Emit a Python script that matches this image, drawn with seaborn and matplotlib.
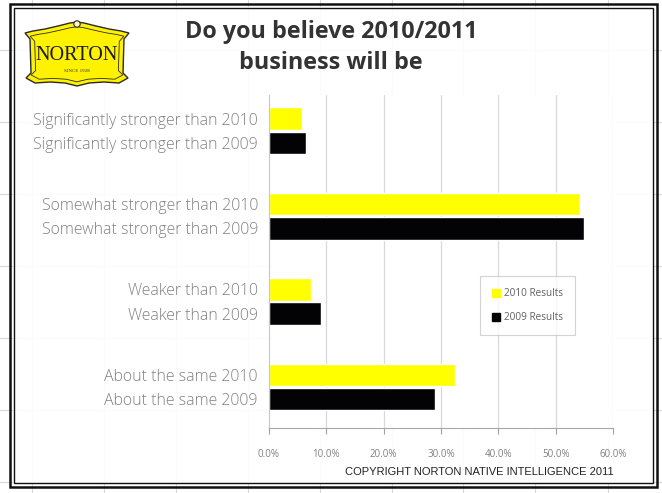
import matplotlib
matplotlib.use("Agg")
import matplotlib.pyplot as plt
import matplotlib.patches as mpatches
from matplotlib.lines import Line2D
import numpy as np
import pandas as pd
import seaborn as sns

# ---- data -------------------------------------------------------------
groups = ["Significantly stronger", "Somewhat stronger", "Weaker", "About the same"]
labels_2010 = ["Significantly stronger than 2010", "Somewhat stronger than 2010",
               "Weaker than 2010", "About the same 2010"]
labels_2009 = ["Significantly stronger than 2009", "Somewhat stronger than 2009",
               "Weaker than 2009", "About the same 2009"]
values_2010 = [5.7, 54.2, 7.4, 32.5]
values_2009 = [6.4, 54.9, 9.1, 28.9]
series = ["2010 Results", "2009 Results"]
colors = ["#ffff00", "#030305"]
xticks = [0, 10, 20, 30, 40, 50, 60]
xtick_labels = ["0.0%", "10.0%", "20.0%", "30.0%", "40.0%", "50.0%", "60.0%"]

df = pd.DataFrame({
    "group": groups * 2,
    "series": [series[0]] * 4 + [series[1]] * 4,
    "value": values_2010 + values_2009,
})

sns.set_style("white")
W, H = 662, 493
fig = plt.figure(figsize=(W / 100, H / 100), dpi=100)
fig.patch.set_facecolor("white")

# ---- background: sheet grid, double frame, logo, title ---------------
bg = fig.add_axes([0, 0, 1, 1], zorder=0)
bg.set_xlim(0, W)
bg.set_ylim(H, 0)
bg.axis("off")

for y in [50, 122, 194, 266, 338, 410, 482]:
    bg.add_line(Line2D([0, W], [y, y], color="#d8d8d8", lw=0.8, zorder=0))
for x in [32, 104, 176, 248, 320, 392, 463, 535, 608]:
    bg.add_line(Line2D([x, x], [0, H], color="#d8d8d8", lw=0.8, zorder=0))

bg.add_patch(mpatches.Rectangle((13, 7), 640, 476, facecolor="white",
                                edgecolor="none", alpha=0.93, zorder=1))
bg.add_patch(mpatches.Rectangle((9.5, 3.5), 647, 483, fill=False,
                                edgecolor="#111111", lw=1.8, zorder=2))
bg.add_patch(mpatches.Rectangle((13.5, 7.5), 639, 475, fill=False,
                                edgecolor="#111111", lw=1.0, zorder=2))

# shield-shaped logo
half = [(77, 22), (70, 23), (58, 26), (45, 29), (33, 31), (25, 33),
        (30, 39), (31, 73), (26, 78), (35, 83), (50, 82), (65, 83), (77, 86)]
right = [(154 - x, y) for x, y in reversed(half[:-1])]
shield = np.array(half + right)
bg.add_patch(mpatches.Polygon(shield, closed=True, facecolor="#fff200",
                              edgecolor="#2a2a2a", lw=1.0, zorder=3))
cx, cy = 77, 56
inner = np.column_stack([cx + (shield[:, 0] - cx) * 0.9, cy + (shield[:, 1] - cy) * 0.86])
bg.add_patch(mpatches.Polygon(inner, closed=True, fill=False,
                              edgecolor="#2a2a2a", lw=0.6, zorder=3))
bg.add_patch(mpatches.Circle((77, 24), 3.2, facecolor="#fff8c0",
                             edgecolor="#2a2a2a", lw=0.8, zorder=4))
bg.text(77, 56, "NORTON", family=["Liberation Serif", "DejaVu Serif"], fontsize=14.5,
        color="#1a1a1a", ha="center", va="center", zorder=5)
bg.text(77, 71, "SINCE 1928", family=["Liberation Serif", "DejaVu Serif"], fontsize=3.6,
        color="#333333", ha="center", va="center", zorder=5)

bg.text(331, 32, "Do you believe 2010/2011", family=["Open Sans", "DejaVu Sans"],
        fontsize=16.8, fontweight="bold", color="#333333", ha="center", va="center", zorder=5)
bg.text(331, 63, "business will be", family=["Open Sans", "DejaVu Sans"],
        fontsize=16.8, fontweight="bold", color="#333333", ha="center", va="center", zorder=5)

bg.text(479, 472, "COPYRIGHT NORTON NATIVE INTELLIGENCE 2011",
        family=["Liberation Sans", "DejaVu Sans"], fontsize=8, color="#222222",
        ha="center", va="center", zorder=5)

# ---- bar chart --------------------------------------------------------
left, right_px, top, bottom = 269, 613, 95, 428
ax = fig.add_axes([left / W, 1 - bottom / H, (right_px - left) / W, (bottom - top) / H], zorder=2)
ax.set_facecolor("white")

sns.barplot(data=df, y="group", x="value", hue="series", order=groups,
            hue_order=series, palette=colors, orient="h", width=0.57, gap=0.07,
            saturation=1, ax=ax, legend=True)

ax.set_xlim(0, 60)
ax.set_ylim(3.48, -0.42)
ax.set_xticks(xticks)
ax.set_xticklabels(xtick_labels, family=["Open Sans", "DejaVu Sans"], fontsize=7, color="#808080")
ax.xaxis.grid(True, color="#d9d9d9", lw=0.9)
ax.set_axisbelow(True)
ax.tick_params(axis="x", length=4, width=0.8, color="#a0a0a0", bottom=True, pad=11)
ax.tick_params(axis="y", length=0, pad=8)

# one tick label per bar, placed at each bar's centre
centers, names = [], []
for cont, labs in zip(ax.containers, [labels_2010, labels_2009]):
    for bar, lab in zip(cont, labs):
        centers.append(bar.get_y() + bar.get_height() / 2)
        names.append(lab)
ax.set_yticks(centers)
ax.set_yticklabels(names, family=["Open Sans", "DejaVu Sans"], fontsize=11.4,
                   fontweight="light", color="#808080")
ax.set_xlabel("")
ax.set_ylabel("")

for side in ["top", "right"]:
    ax.spines[side].set_visible(False)
ax.spines["left"].set_color("#c8c8c8")
ax.spines["bottom"].set_color("#a8a8a8")

handles = [Line2D([], [], marker="s", ls="", markersize=5.5, color=c) for c in colors]
leg = ax.legend(handles, series, loc="center", bbox_to_anchor=(527 / W, 1 - 305.5 / H),
                bbox_transform=fig.transFigure, frameon=True, fancybox=False,
                prop={"family": ["Open Sans", "DejaVu Sans"], "size": 7.2},
                labelcolor="#606060", handletextpad=0.4, handlelength=0.8,
                borderpad=1.2, labelspacing=1.3, borderaxespad=0)
leg.get_frame().set_edgecolor("#c8c8c8")
leg.get_frame().set_linewidth(0.8)

fig.savefig("out.png", dpi=100, facecolor="white")
